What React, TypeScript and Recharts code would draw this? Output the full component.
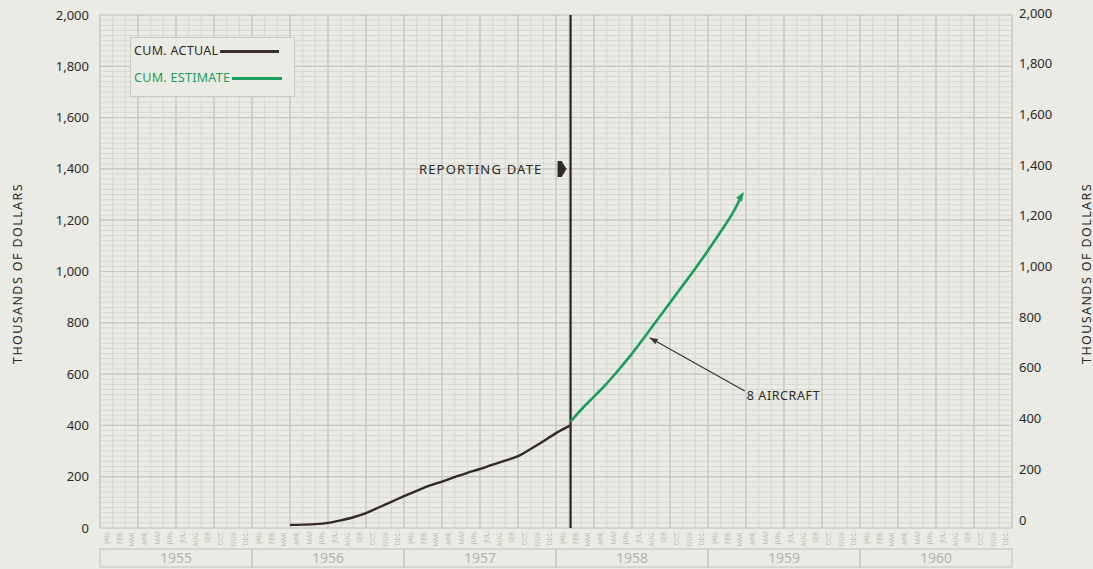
import React from 'react'
import { LineChart, Line, XAxis, YAxis, CartesianGrid, ReferenceLine, ReferenceDot, Legend } from 'recharts'

// month index: 0 = start of Jan 1955, 72 = end of Dec 1960
const MONTHS = ['JAN.', 'FEB.', 'MAR.', 'APR.', 'MAY', 'JUN.', 'JUL.', 'AUG.', 'SEP.', 'OCT.', 'NOV.', 'DEC.']
const YEARS = [1955, 1956, 1957, 1958, 1959, 1960]

const ACTUAL_MONTH = [15, 16, 17, 18, 19, 20, 21, 22, 23, 24, 25, 26, 27, 28, 29, 30, 31, 32, 33, 34, 35, 36, 37.15]
const ACTUAL_VALUE = [12, 13, 15, 20, 30, 42, 58, 80, 102, 124, 145, 165, 181, 198, 215, 230, 247, 263, 280, 308, 338, 370, 400]

const ESTIMATE_MONTH = [37.15, 38, 39, 40, 41, 42, 43, 44, 45, 46, 47, 48, 49, 50, 50.7]
const ESTIMATE_VALUE = [415, 462, 512, 563, 620, 680, 745, 812, 878, 945, 1012, 1082, 1155, 1232, 1300]

const Y_TICKS = [0, 200, 400, 600, 800, 1000, 1200, 1400, 1600, 1800, 2000]
const REPORTING_MONTH = 37.15
const REPORTING_LABEL_VALUE = 1400
const NOTE_FROM = { month: 50.9, value: 534 }
const NOTE_TO = { month: 43.4, value: 742 }

const MONTH_BOUNDS = Array.from({ length: 73 }, (_, i) => i)
const QUARTER_BOUNDS = MONTH_BOUNDS.filter((m) => m % 3 === 0)
const MONTH_CENTERS = Array.from({ length: 72 }, (_, i) => i + 0.5)
const YEAR_CENTERS = YEARS.map((_, i) => i * 12 + 6)
const MINOR_Y = Array.from({ length: 101 }, (_, i) => i * 20)

const actualData = ACTUAL_MONTH.map((m, i) => ({ month: m, value: ACTUAL_VALUE[i] }))
const estimateData = ESTIMATE_MONTH.map((m, i) => ({ month: m, value: ESTIMATE_VALUE[i] }))

const BG = '#e9ebe4'
const INK = '#2f2a28'
const GREEN = '#1b9d5c'
const FONT = '"Noto Sans", sans-serif'

const fmt = (v: number) => v.toLocaleString('en-US')

function MonthTick({ x, y, payload }: any) {
  const label = MONTHS[Math.floor(payload.value) % 12]
  return (
    <text transform={`translate(${x + 2.5},${y}) rotate(-90)`} textAnchor="end" fontSize={6.5} fill="#bdbfb8" fontFamily={FONT}>
      {label}
    </text>
  )
}

function YearTick({ x, y, payload, width }: any) {
  const w = (width || 912) / YEARS.length
  const year = YEARS[Math.round((payload.value - 6) / 12)]
  return (
    <g>
      <rect x={x - w / 2} y={y + 1} width={w} height={18} fill="none" stroke="#c6c8c1" strokeWidth={1.2} />
      <text x={x} y={y + 15} textAnchor="middle" fontSize={14} fill="#b3b5ae" fontFamily={FONT}>
        {year}
      </text>
    </g>
  )
}

function LeftTick({ x, y, payload }: any) {
  return (
    <text x={x} y={y + 4.5} textAnchor="end" fontSize={13} fill={INK} fontFamily={FONT}>
      {fmt(payload.value)}
    </text>
  )
}

function RightTick({ x, y, payload }: any) {
  // right scale on the original sheet sits a few px higher near the bottom
  const shift = -2 - 6 * (1 - payload.value / 2000)
  return (
    <text x={x} y={y + 4.5 + shift} textAnchor="start" fontSize={13} fill={INK} fontFamily={FONT}>
      {fmt(payload.value)}
    </text>
  )
}

function axisTitle(side: 'left' | 'right') {
  return ({ viewBox }: any) => {
    const cx = side === 'left' ? viewBox.x + 17 : viewBox.x + 74
    const cy = viewBox.y + viewBox.height / 2 + 2
    return (
      <text
        transform={`translate(${cx},${cy}) rotate(-90)`}
        textAnchor="middle"
        dominantBaseline="central"
        fontSize={12.5}
        letterSpacing={1.4}
        fill={INK}
        fontFamily={FONT}
      >
        THOUSANDS OF DOLLARS
      </text>
    )
  }
}

function renderLegend() {
  const row = { position: 'absolute' as const, left: 3, display: 'flex', alignItems: 'center', fontSize: 12.5, letterSpacing: 0.3, lineHeight: '14px' }
  return (
    <div style={{ position: 'relative', width: 165, height: 60, boxSizing: 'border-box', border: '1.5px solid #cacbc5', background: BG, fontFamily: FONT }}>
      <div style={{ ...row, top: 6, color: INK }}>
        CUM. ACTUAL
        <span style={{ display: 'inline-block', width: 59, height: 3, background: '#3a2f2d', marginLeft: 2 }} />
      </div>
      <div style={{ ...row, top: 33, color: GREEN }}>
        CUM. ESTIMATE
        <span style={{ display: 'inline-block', width: 50, height: 3, background: GREEN, marginLeft: 2 }} />
      </div>
    </div>
  )
}

function EndArrow(props: any) {
  const { cx, cy, index } = props
  if (index !== estimateData.length - 1) return <g key={index} />
  return <path key={index} transform={`translate(${cx},${cy}) rotate(-58)`} d="M3,0 L-6,-3.5 L-6,3.5 Z" fill={GREEN} />
}

function ReportingLabel({ cx, cy }: any) {
  return (
    <g>
      <text x={cx - 28} y={cy + 5} textAnchor="end" fontSize={13} letterSpacing={1.2} fill={INK} fontFamily={FONT}>
        REPORTING DATE
      </text>
      <path d={`M${cx - 13},${cy - 8} L${cx - 9},${cy - 8} L${cx - 4},${cy} L${cx - 9},${cy + 8} L${cx - 13},${cy + 8} Z`} fill={INK} />
    </g>
  )
}

function NoteLeader({ x1, y1, x2, y2 }: any) {
  const a = Math.atan2(y2 - y1, x2 - x1)
  const deg = (a * 180) / Math.PI
  return (
    <g>
      <line x1={x1} y1={y1} x2={x2} y2={y2} stroke="#3d3533" strokeWidth={1.2} />
      <path transform={`translate(${x2},${y2}) rotate(${deg})`} d="M0,0 L-8,-3 L-8,3 Z" fill="#3d3533" />
      <text x={x1 + 2} y={y1 + 9} fontSize={12.5} letterSpacing={0.6} fill={INK} fontFamily={FONT}>
        8 AIRCRAFT
      </text>
    </g>
  )
}

export default function App() {
  return (
    <div style={{ position: 'absolute', left: 0, top: 0, width: 1093, height: 569, background: BG }}>
      <LineChart width={1093} height={569} margin={{ top: 15, right: 0, bottom: 0, left: 0 }}>
        <CartesianGrid
          xAxisId="m"
          yAxisId="l"
          horizontalValues={MINOR_Y}
          verticalValues={MONTH_BOUNDS}
          stroke="#d6d8d1"
          strokeWidth={1}
        />
        <CartesianGrid
          xAxisId="m"
          yAxisId="l"
          horizontalValues={Y_TICKS}
          verticalValues={QUARTER_BOUNDS}
          stroke="#c4c6bf"
          strokeWidth={1.2}
        />
        <XAxis
          xAxisId="m"
          dataKey="month"
          type="number"
          domain={[0, 72]}
          ticks={MONTH_CENTERS}
          interval={0}
          tick={<MonthTick />}
          axisLine={false}
          tickLine={false}
          tickSize={0}
          tickMargin={3}
          height={20}
          allowDecimals
        />
        <XAxis
          xAxisId="y"
          dataKey="month"
          type="number"
          domain={[0, 72]}
          ticks={YEAR_CENTERS}
          interval={0}
          tick={<YearTick />}
          axisLine={false}
          tickLine={false}
          tickSize={0}
          tickMargin={0}
          height={21}
        />
        <YAxis
          yAxisId="l"
          domain={[0, 2000]}
          ticks={Y_TICKS}
          interval={0}
          tick={<LeftTick />}
          axisLine={false}
          tickLine={false}
          tickSize={0}
          tickMargin={11}
          width={100}
          label={{ content: axisTitle('left') }}
        />
        <YAxis
          yAxisId="r"
          orientation="right"
          domain={[0, 2000]}
          ticks={Y_TICKS}
          interval={0}
          tick={<RightTick />}
          axisLine={false}
          tickLine={false}
          tickSize={0}
          tickMargin={7}
          width={81}
          label={{ content: axisTitle('right') }}
        />
        <Legend content={renderLegend} layout="vertical" verticalAlign="middle" align="center" wrapperStyle={{ left: 130, top: 37, width: 165, height: 60 }} />
        <ReferenceLine xAxisId="m" yAxisId="l" x={REPORTING_MONTH} stroke="#2b2624" strokeWidth={2.2} />
        <ReferenceDot xAxisId="m" yAxisId="l" x={REPORTING_MONTH} y={REPORTING_LABEL_VALUE} r={0} shape={<ReportingLabel />} />
        {/* invisible copy of the actuals so the year row and right scale get drawn */}
        <Line
          xAxisId="y"
          yAxisId="r"
          data={actualData}
          dataKey="value"
          stroke="none"
          dot={false}
          activeDot={false}
          legendType="none"
          isAnimationActive={false}
        />
        <Line
          xAxisId="m"
          yAxisId="l"
          data={actualData}
          dataKey="value"
          name="CUM. ACTUAL"
          type="monotone"
          stroke="#35292a"
          strokeWidth={2.4}
          dot={false}
          isAnimationActive={false}
        />
        <Line
          xAxisId="m"
          yAxisId="l"
          data={estimateData}
          dataKey="value"
          name="CUM. ESTIMATE"
          type="monotone"
          stroke={GREEN}
          strokeWidth={2.6}
          dot={EndArrow}
          activeDot={false}
          isAnimationActive={false}
        />
        <ReferenceLine
          xAxisId="m"
          yAxisId="l"
          segment={[
            { x: NOTE_FROM.month, y: NOTE_FROM.value },
            { x: NOTE_TO.month, y: NOTE_TO.value },
          ]}
          shape={NoteLeader}
        />
      </LineChart>
    </div>
  )
}
